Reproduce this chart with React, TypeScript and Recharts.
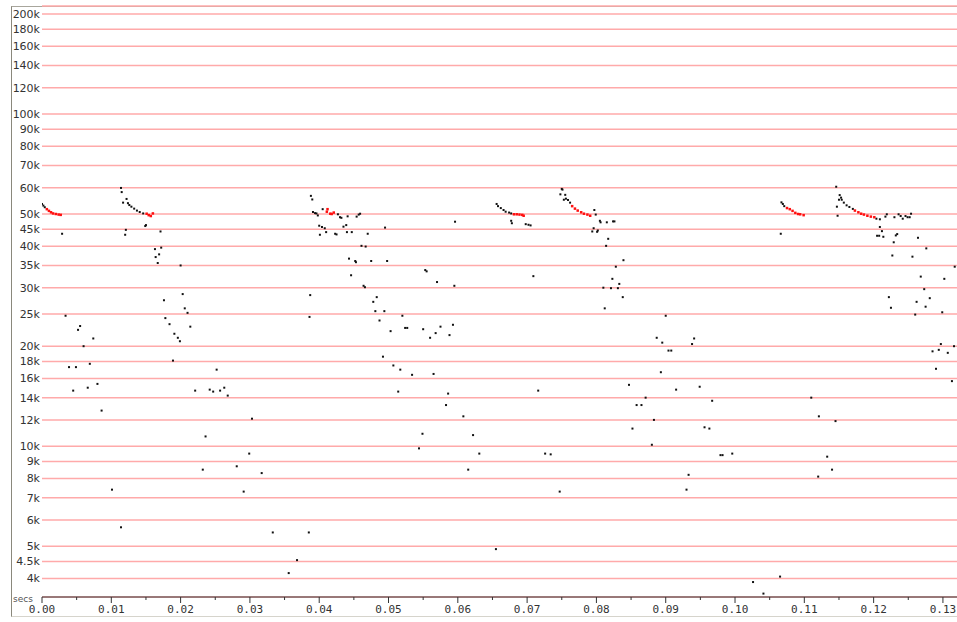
import { ScatterChart, Scatter, XAxis, YAxis, CartesianGrid } from "recharts";

// secs, kHz-ish (values in thousands)
const blackPoints: [number, number][] = [
  [0.0, 53.6], [0.0002, 53.0], [0.0004, 52.4],
  [0.0029, 43.6], [0.0034, 24.7], [0.0039, 17.3], [0.0049, 17.3], [0.0045, 14.7], [0.0052, 22.4], [0.0055, 23.0],
  [0.006, 20.0], [0.0066, 15.0], [0.0069, 17.7], [0.0074, 21.1], [0.008, 15.4], [0.0086, 12.8], [0.0101, 7.4], [0.0114, 5.7],
  [0.0114, 59.9], [0.0115, 58.2], [0.0117, 54.1], [0.0122, 55.5], [0.0124, 53.9], [0.0126, 53.2], [0.0129, 52.6],
  [0.0133, 51.9], [0.0137, 51.2], [0.0141, 50.7], [0.0146, 50.2],
  [0.0121, 44.8], [0.012, 43.3], [0.015, 46.3], [0.0149, 46.0], [0.0171, 44.3], [0.0163, 39.2], [0.0172, 39.6],
  [0.0169, 37.8], [0.0164, 37.1], [0.0167, 35.6], [0.02, 35.0], [0.0203, 28.7], [0.0176, 27.5], [0.0206, 26.0],
  [0.021, 25.2], [0.0178, 24.3], [0.0184, 23.3], [0.0214, 22.9], [0.0191, 21.8], [0.0196, 21.2], [0.0199, 20.7],
  [0.0189, 18.1], [0.0221, 14.7], [0.0252, 17.0], [0.0242, 14.8], [0.0247, 14.6], [0.0257, 14.7], [0.0263, 15.0],
  [0.0268, 14.2], [0.0236, 10.7], [0.0232, 8.5], [0.0281, 8.7],
  [0.0291, 7.3], [0.0299, 9.5], [0.0303, 12.1], [0.0317, 8.3], [0.0333, 5.5], [0.0356, 4.15], [0.0368, 4.54],
  [0.0385, 5.5], [0.0386, 24.5], [0.0387, 28.5], [0.0388, 56.7], [0.039, 55.3], [0.0391, 50.7], [0.0394, 50.3],
  [0.0396, 50.2], [0.0398, 49.5], [0.0405, 51.7],
  [0.0427, 49.9], [0.043, 48.9], [0.0432, 48.7], [0.0441, 49.2], [0.0454, 49.1], [0.0457, 49.8], [0.0459, 50.1],
  [0.04, 46.1], [0.0404, 45.7], [0.0408, 45.3], [0.0401, 43.3], [0.041, 44.1], [0.0423, 43.6], [0.0425, 43.4],
  [0.0435, 45.8], [0.0439, 46.3], [0.044, 44.1], [0.0447, 44.1], [0.047, 43.6], [0.0495, 45.5], [0.0596, 47.4],
  [0.0461, 40.1], [0.0467, 39.9], [0.0443, 36.7], [0.0452, 36.1], [0.0453, 35.8], [0.0475, 36.1], [0.0498, 36.1],
  [0.0446, 32.7], [0.0553, 33.9], [0.0555, 33.6], [0.057, 31.2], [0.0595, 30.4], [0.0464, 30.4], [0.0466, 30.1],
  [0.0483, 28.1], [0.0478, 27.2], [0.0481, 25.5], [0.0494, 25.5], [0.052, 24.7], [0.0487, 23.9], [0.0503, 22.2],
  [0.0524, 22.7], [0.0527, 22.7], [0.055, 22.5], [0.056, 21.2], [0.0568, 21.9], [0.0575, 22.9], [0.0588, 21.6],
  [0.0593, 23.2], [0.0492, 18.6], [0.0507, 17.5], [0.0517, 17.0], [0.0534, 16.4], [0.0565, 16.5], [0.0514, 14.6],
  [0.0586, 14.4], [0.0583, 13.3], [0.0608, 12.3], [0.0549, 10.9], [0.0622, 10.8], [0.0544, 9.85], [0.0631, 9.5],
  [0.0615, 8.5],
  [0.0655, 4.9], [0.0656, 53.6], [0.0658, 52.8], [0.0662, 52.1], [0.0666, 51.4], [0.0669, 50.8], [0.0674, 50.5],
  [0.0677, 50.2], [0.0677, 47.7], [0.0678, 46.9], [0.0698, 46.6], [0.0702, 46.4], [0.0705, 46.2], [0.0709, 32.5],
  [0.0716, 14.7], [0.0726, 9.5], [0.0734, 9.45], [0.0747, 7.3],
  [0.075, 59.5], [0.0751, 59.2], [0.0748, 57.3], [0.0755, 57.1], [0.0753, 55.2], [0.0756, 55.6], [0.0759, 55.1],
  [0.0762, 54.1], [0.0797, 51.4], [0.0799, 49.8], [0.0805, 47.7], [0.0806, 47.2], [0.0815, 47.2], [0.0824, 47.5],
  [0.0826, 47.5], [0.0796, 45.3], [0.0794, 44.3], [0.0802, 44.6], [0.0801, 44.2], [0.0817, 42.1], [0.0814, 40.1],
  [0.0839, 36.3], [0.0828, 34.7], [0.0823, 31.9], [0.0833, 30.8], [0.081, 30.0], [0.0821, 29.9], [0.0831, 29.9],
  [0.0838, 28.1], [0.0812, 26.0],
  [0.09, 24.7], [0.0887, 21.2], [0.0895, 20.5], [0.0941, 21.1], [0.0938, 20.3], [0.0904, 19.4], [0.0908, 19.4],
  [0.0893, 16.7], [0.0847, 15.3], [0.0915, 14.8], [0.0949, 15.1], [0.0871, 14.0], [0.0858, 13.3], [0.0865, 13.3],
  [0.0967, 13.7], [0.0883, 12.0], [0.0852, 11.3], [0.0956, 11.4], [0.0963, 11.3], [0.088, 10.1], [0.0933, 8.2],
  [0.093, 7.4],
  [0.0979, 9.4], [0.0982, 9.4], [0.0996, 9.5], [0.1026, 3.9], [0.1041, 3.6], [0.1065, 4.05],
  [0.1067, 54.2], [0.1069, 53.6], [0.1071, 52.8], [0.1066, 43.6],
  [0.111, 14.0], [0.1121, 12.3], [0.1145, 11.9], [0.1133, 9.3], [0.114, 8.5], [0.112, 8.1],
  [0.1146, 60.4], [0.1151, 57.0], [0.115, 55.2], [0.1147, 52.6], [0.1148, 49.4], [0.1153, 56.0], [0.1154, 55.2],
  [0.1157, 54.1], [0.1161, 53.1], [0.1165, 52.5], [0.117, 51.8],
  [0.1204, 48.4], [0.1209, 48.2], [0.1217, 49.1], [0.1219, 49.9], [0.123, 48.9], [0.1236, 49.9], [0.1239, 49.3],
  [0.1242, 48.4], [0.1246, 49.3], [0.1249, 48.9], [0.1252, 48.9], [0.1254, 50.1],
  [0.1209, 45.7], [0.1212, 44.4], [0.1205, 43.0], [0.1208, 43.0], [0.1214, 42.7], [0.1232, 43.1], [0.1234, 43.5],
  [0.1229, 41.1], [0.1264, 42.4], [0.1276, 39.4], [0.1227, 37.5], [0.1256, 37.2], [0.1317, 34.7], [0.1268, 32.4],
  [0.1302, 31.9], [0.1273, 29.7], [0.1222, 28.1], [0.1281, 27.9], [0.1262, 27.2], [0.1225, 26.1], [0.1275, 26.3],
  [0.126, 24.9], [0.1299, 25.3], [0.1297, 20.3], [0.1316, 20.0], [0.1285, 19.3], [0.1294, 19.5], [0.1307, 19.1],
  [0.129, 17.1], [0.1313, 15.7],
];

const redPoints: [number, number][] = [
  [0.0007, 51.7], [0.001, 51.1], [0.0013, 50.6], [0.0016, 50.2], [0.002, 50.0], [0.0024, 49.8], [0.0027, 49.7],
  [0.0151, 50.1], [0.0154, 49.6], [0.0157, 49.3], [0.016, 50.2],
  [0.0412, 51.7], [0.0411, 50.8], [0.0416, 50.1], [0.0418, 50.0], [0.0421, 50.5],
  [0.0681, 49.9], [0.0685, 49.9], [0.0689, 49.8], [0.0693, 49.7], [0.0695, 49.4],
  [0.0765, 52.8], [0.0769, 51.9], [0.0773, 51.2], [0.0778, 50.6], [0.0782, 50.1], [0.0787, 49.8], [0.0791, 49.4],
  [0.1075, 52.1], [0.1079, 51.7], [0.1083, 51.1], [0.1087, 50.4], [0.1091, 50.0], [0.1094, 49.9], [0.1099, 49.6],
  [0.1173, 51.2], [0.1178, 50.6], [0.1182, 50.1], [0.1186, 49.8], [0.1191, 49.4], [0.1196, 49.1], [0.1201, 48.9],
];

const yTicks = [4, 4.5, 5, 6, 7, 8, 9, 10, 12, 14, 16, 18, 20, 25, 30, 35, 40, 45, 50, 60, 70, 80, 90, 100, 120, 140, 160, 180, 200];
const xTicks = [
  0, 0.005, 0.01, 0.015, 0.02, 0.025, 0.03, 0.035, 0.04, 0.045, 0.05, 0.055, 0.06, 0.065, 0.07, 0.075,
  0.08, 0.085, 0.09, 0.095, 0.1, 0.105, 0.11, 0.115, 0.12, 0.125, 0.13,
];

const toRows = (pts: [number, number][]) => pts.map(([t, f]) => ({ t, f }));

const Dot = ({ cx, cy, fill, size }: any) => (
  <rect x={cx - size / 2} y={cy - size / 2} width={size} height={size} fill={fill} />
);

const YTick = ({ x, y, payload }: any) => (
  <text x={x} y={y} dy={4} textAnchor="end" fontSize={11} fontFamily="DejaVu Sans" fill="#333">
    {payload.value + "k"}
  </text>
);

const XTick = ({ x, y, payload }: any) => {
  const major = Math.round(payload.value * 1000) % 10 === 0;
  return (
    <g>
      <line x1={x} y1={y} x2={x} y2={y + (major ? 6 : 3)} stroke="#333" />
      {major && (
        <text x={x} y={y + 16} textAnchor="middle" fontSize={11} fontFamily="DejaVu Sans Mono" fill="#333">
          {payload.value.toFixed(2)}
        </text>
      )}
    </g>
  );
};

export default function App() {
  return (
    <div style={{ position: "absolute", left: 0, top: 0, width: 957, height: 622, background: "#fff" }}>
      <div
        style={{
          position: "absolute",
          left: 11,
          top: 6,
          width: 960,
          height: 609,
          borderLeft: "1px solid #8a887c",
          borderTop: "1px solid #a8a69c",
          borderBottom: "1px solid #d6d4cc",
        }}
      />
      <div style={{ position: "absolute", left: 0, top: 0 }}>
        <ScatterChart width={957} height={622} margin={{ top: 6, right: 0, bottom: 0, left: 0 }}>
          <CartesianGrid vertical={false} stroke="#ffaaaa" strokeWidth={1.5} />
          <XAxis
            type="number"
            dataKey="t"
            domain={[0, 0.13203]}
            allowDataOverflow
            ticks={xTicks}
            interval={0}
            height={25}
            tickSize={0}
            tickMargin={0}
            tickLine={false}
            axisLine={{ stroke: "#333" }}
            tick={<XTick />}
          />
          <YAxis
            type="number"
            dataKey="f"
            scale="log"
            domain={[3.516, 211.4]}
            allowDataOverflow
            ticks={yTicks}
            interval={0}
            width={42}
            tickSize={0}
            tickMargin={2}
            tickLine={false}
            axisLine={false}
            tick={<YTick />}
          />
          <Scatter
            data={toRows(blackPoints)}
            isAnimationActive={false}
            shape={(p: any) => <Dot {...p} fill="#111" size={2} />}
          />
          <Scatter
            data={toRows(redPoints)}
            isAnimationActive={false}
            shape={(p: any) => <Dot {...p} fill="#ff1010" size={2.5} />}
          />
        </ScatterChart>
      </div>
      <div
        style={{
          position: "absolute",
          left: 13,
          top: 594,
          fontSize: 9,
          fontFamily: "DejaVu Sans",
          color: "#555",
        }}
      >
        secs
      </div>
    </div>
  );
}
